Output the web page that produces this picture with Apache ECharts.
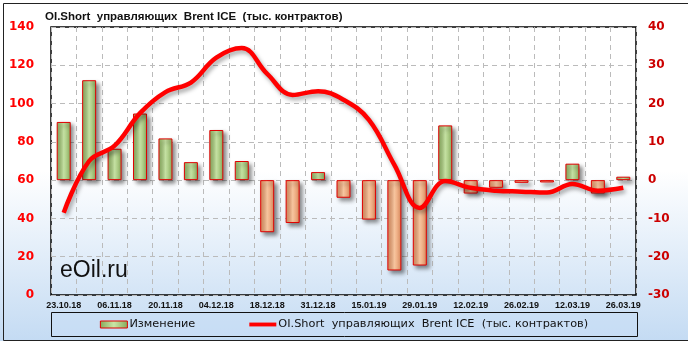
<!DOCTYPE html>
<html><head><meta charset="utf-8">
<script src="https://cdn.jsdelivr.net/npm/echarts@6/dist/echarts.min.js"></script>
<style>html,body{margin:0;padding:0;}#c{width:688px;height:341px;}</style>
</head><body><div id="c"></div>
<script>
const categories = ['23.10.18','30.10.18','06.11.18','13.11.18','20.11.18','27.11.18','04.12.18','11.12.18','18.12.18','24.12.18','31.12.18','08.01.19','15.01.19','22.01.19','29.01.19','05.02.19','12.02.19','19.02.19','26.02.19','05.03.19','12.03.19','19.03.19','26.03.19'];
const changeValues = [15.2, 26.1, 8.2, 17.4, 10.9, 4.7, 13.1, 5.0, -13.6, -11.2, 2.1, -4.6, -10.3, -23.6, -22.3, 14.3, -3.5, -2.0, -0.7, -0.6, 4.3, -3.5, 0.9];
const oiShortValues = [43, 70, 78, 95, 106, 111, 124, 129, 115.5, 104.5, 106.5, 102, 91.5, 68, 45.5, 59.5, 56, 54.5, 54, 53.5, 58, 54.5, 56];
const leftTicks = {min: 0, max: 140, interval: 20};
const rightTicks = {min: -30, max: 40, interval: 10};
const barName = 'Изменение';
const lineName = 'OI.Short  управляющих  Brent ICE  (тыс. контрактов)';
const titleText = 'OI.Short  управляющих  Brent ICE  (тыс. контрактов)';

const greenFill = {type:'linear',x:0,y:0,x2:1,y2:0,colorStops:[{offset:0,color:'#86a85a'},{offset:0.5,color:'#c9e6a6'},{offset:1,color:'#86a85a'}]};
const orangeFill = {type:'linear',x:0,y:0,x2:1,y2:0,colorStops:[{offset:0,color:'#d8875a'},{offset:0.5,color:'#fcc9a2'},{offset:1,color:'#d8875a'}]};

const barData = changeValues.map(v => ({value: v, itemStyle: {color: v >= 0 ? greenFill : orangeFill}}));

const chart = echarts.init(document.getElementById('c'), null, {renderer:'canvas'});
chart.setOption({
  animation: false,
  backgroundColor: {type:'linear',x:0,y:0,x2:0,y2:1,colorStops:[{offset:0,color:'#ffffff'},{offset:0.5,color:'#ffffff'},{offset:1,color:'#c4dbf3'}]},
  title: {text: titleText, left: 40, top: 6, textStyle: {fontFamily:'Liberation Sans', fontWeight:'bold', fontSize: 11.5, color:'#111'}},
  graphic: [
    {type:'rect', left:1, top:1, shape:{width:685, height:337}, style:{fill:'none', stroke:'#222', lineWidth:1}, silent:true},
    {type:'rect', left:51, top:312, shape:{width:586, height:24}, style:{fill:'rgba(200,222,245,0.6)', stroke:'#111', lineWidth:1}, silent:true, z:-1},
    {type:'text', left:60, top:259, style:{text:'eOil.ru', font:'23px "Liberation Sans"', fill:'#111'}, z:10}
  ],
  grid: {left: 51, right: 52, top: 27, bottom: 46, show: true, borderColor: '#000', borderWidth: 1.5, backgroundColor: 'transparent'},
  legend: {
    bottom: 6, left: 'center', itemGap: 54, itemWidth: 27, itemHeight: 7,
    textStyle: {fontFamily: 'DejaVu Sans', fontSize: 11.3, color: '#111', padding: [0,0,0,-3]},
    data: [
      {name: barName, icon: 'rect', itemStyle: {color: greenFill, borderColor: '#e00000', borderWidth: 1}},
      {name: lineName, icon: 'path://M0,0H28V4H0Z', itemStyle: {color: '#ff0000', borderWidth: 0}}
    ]
  },
  xAxis: {
    type: 'category', data: categories, boundaryGap: true,
    axisLine: {show: false}, axisTick: {show: false},
    axisLabel: {interval: 1, margin: 6, fontFamily: 'Liberation Sans', fontWeight: 'bold', fontSize: 9, color: '#111'},
    splitLine: {show: true, interval: 0, lineStyle: {color: '#bbb', type: [5,4], width: 1}}
  },
  yAxis: [
    {type:'value', min: leftTicks.min, max: leftTicks.max, interval: leftTicks.interval, position:'left',
     axisLine:{show:false}, axisTick:{show:false},
     axisLabel:{margin: 17, fontFamily:'DejaVu Sans', fontWeight:'bold', fontSize: 12, color:'#ff0000'},
     splitLine:{show:true, lineStyle:{color:'#bbb', type:[5,4], width:1}}},
    {type:'value', min: rightTicks.min, max: rightTicks.max, interval: rightTicks.interval, position:'right',
     axisLine:{show:false}, axisTick:{show:false},
     axisLabel:{margin: 12, fontFamily:'DejaVu Sans', fontWeight:'bold', fontSize: 12, color:'#cc0000'},
     splitLine:{show:false}}
  ],
  series: [
    {name: barName, type: 'bar', yAxisIndex: 1, data: barData, barWidth: 14,
     itemStyle: {borderColor: '#e00000', borderWidth: 1, shadowColor: 'rgba(0,0,0,0.45)', shadowBlur: 4, shadowOffsetX: 3, shadowOffsetY: 3}},
    {name: lineName, type: 'line', yAxisIndex: 0, data: oiShortValues, smooth: 0.4, symbol: 'none',
     itemStyle: {color: '#ff0000'},
     lineStyle: {color: '#ff0000', width: 4.5, shadowColor: 'rgba(0,0,0,0.35)', shadowBlur: 4, shadowOffsetX: 2, shadowOffsetY: 3}, z: 5}
  ]
});
</script></body></html>
